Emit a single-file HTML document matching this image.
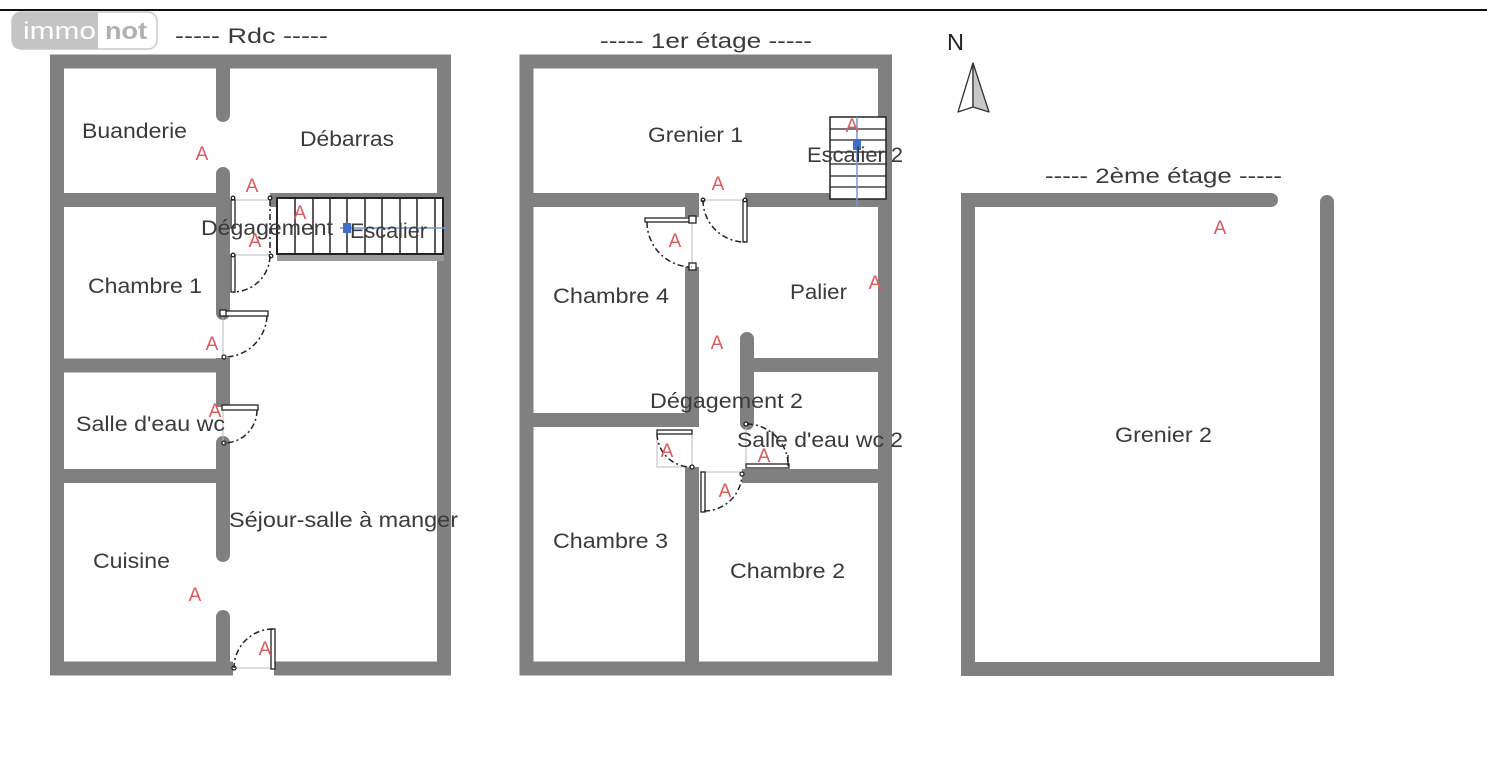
<!DOCTYPE html>
<html><head><meta charset="utf-8"><style>
html,body{margin:0;padding:0;background:#fff;}
svg{display:block;}
text{font-family:"Liberation Sans",sans-serif;}
</style></head><body>
<svg width="1487" height="767" viewBox="0 0 1487 767" xmlns="http://www.w3.org/2000/svg">
<rect width="1487" height="767" fill="#fff"/>
<line x1="0" y1="10" x2="1487" y2="10" stroke="#111" stroke-width="2"/>

<!-- logo -->
<rect x="12" y="12" width="145" height="37" rx="9" fill="#fff" stroke="#c8c8c8" stroke-width="1.5"/>
<path d="M21 12 H98 V49 H21 A9 9 0 0 1 12 40 V21 A9 9 0 0 1 21 12 Z" fill="#c4c4c4"/>
<text x="23" y="39" font-size="24" fill="#fff" textLength="73" lengthAdjust="spacingAndGlyphs">immo</text>
<text x="105" y="39" font-size="24" font-weight="bold" fill="#b0b0b0" textLength="42" lengthAdjust="spacingAndGlyphs">not</text>

<g fill="none" stroke="#808080" stroke-width="14">
<!-- Rdc -->
<path d="M233 668.5 H57 V61.5 H444 V668.5 H274" stroke-linejoin="miter"/>
<path d="M223 68 V115" stroke-linecap="round"/>
<path d="M223 174 V313" stroke-linecap="round"/>
<path d="M57 200 H229"/>
<path d="M270 200 H444"/>
<path d="M223 358 V407"/>
<path d="M57 365.5 H229"/>
<path d="M223 443 V555" stroke-linecap="round"/>
<path d="M57 476 H229"/>
<path d="M223 617 V668" stroke-linecap="round"/>
<!-- 1er -->
<path d="M526.5 61.5 H885 V668.5 H526.5 Z" stroke-linejoin="miter"/>
<path d="M533 200 H692 V217"/>
<path d="M745 200 H878"/>
<path d="M533 420 H692 V267"/>
<path d="M692 467 V668"/>
<path d="M747 339 V423" stroke-linecap="round"/>
<path d="M741 365 H878"/>
<path d="M742 476 H878"/>
<!-- 2e -->
<path d="M1271 200 H968 V669 H1327 V202" stroke-linecap="round" stroke-linejoin="miter"/>
</g>

<!-- Rdc stairs -->
<rect x="277" y="254" width="167" height="7" fill="#9a9a9a"/>
<rect x="277" y="198" width="166" height="56" fill="#fff" stroke="#222" stroke-width="2"/>
<g stroke="#222" stroke-width="1.5">
<line x1="295" y1="198" x2="295" y2="254"/><line x1="313" y1="198" x2="313" y2="254"/>
<line x1="330" y1="198" x2="330" y2="254"/><line x1="347" y1="198" x2="347" y2="254"/>
<line x1="365" y1="198" x2="365" y2="254"/><line x1="382" y1="198" x2="382" y2="254"/>
<line x1="400" y1="198" x2="400" y2="254"/><line x1="417" y1="198" x2="417" y2="254"/>
<line x1="435" y1="198" x2="435" y2="254"/>
</g>
<line x1="340" y1="228" x2="446" y2="228" stroke="#6f9ad8" stroke-width="1.5"/>
<rect x="343" y="223" width="8" height="10" fill="#3f6fc9"/>

<!-- Rdc doors -->
<g fill="none" stroke="#bbb" stroke-width="1">
<line x1="233" y1="200" x2="270" y2="200"/><line x1="233" y1="255" x2="270" y2="255"/>
<line x1="223" y1="316" x2="223" y2="357"/><line x1="223" y1="410" x2="223" y2="443"/>
<line x1="234" y1="668" x2="273" y2="668"/>
</g>
<g fill="#fff" stroke="#222" stroke-width="1.3">
<rect x="231" y="200" width="4" height="28"/>
<rect x="231" y="255" width="4" height="37"/>
<rect x="223" y="311" width="45" height="5"/>
<rect x="220" y="310" width="6" height="6"/>
<rect x="222" y="405" width="36" height="5"/>
<rect x="271" y="629" width="4" height="40"/>
<circle cx="233" cy="198" r="1.8"/><circle cx="270" cy="198" r="1.8"/>
<circle cx="233" cy="255" r="1.8"/><circle cx="271" cy="256" r="1.8"/>
<circle cx="224" cy="357" r="2"/><circle cx="224" cy="443" r="2"/><circle cx="234" cy="668" r="2"/>
</g>
<g fill="none" stroke="#222" stroke-width="1.5" stroke-dasharray="6 3 2 3">
<path d="M270 200 V255 A37 37 0 0 1 233 292"/>
<path d="M267 316 A43 43 0 0 1 225 357"/>
<path d="M257 410 A33 33 0 0 1 224 443"/>
<path d="M273 629 A39 39 0 0 0 234 668"/>
</g>

<!-- 1er stairs -->
<rect x="830" y="117" width="56" height="82" fill="#fff" stroke="#222" stroke-width="1.5"/>
<g stroke="#222" stroke-width="1.3">
<line x1="830" y1="129" x2="886" y2="129"/><line x1="830" y1="140" x2="886" y2="140"/>
<line x1="830" y1="152" x2="886" y2="152"/><line x1="830" y1="164" x2="886" y2="164"/>
<line x1="830" y1="176" x2="886" y2="176"/><line x1="830" y1="187" x2="886" y2="187"/>
</g>
<line x1="857" y1="117" x2="857" y2="207" stroke="#6f9ad8" stroke-width="1.5"/>
<rect x="853" y="139" width="8" height="11" fill="#3f6fc9"/>

<!-- 1er doors -->
<g fill="none" stroke="#bbb" stroke-width="1">
<line x1="703" y1="200" x2="745" y2="200"/><line x1="692" y1="222" x2="692" y2="266"/>
<line x1="692" y1="433" x2="692" y2="467"/><line x1="746" y1="424" x2="746" y2="466"/>
<line x1="698" y1="472" x2="742" y2="472"/><rect x="657" y="433" width="35" height="34"/>
</g>
<g fill="#fff" stroke="#222" stroke-width="1.3">
<rect x="743" y="200" width="4" height="42"/>
<rect x="645" y="218" width="47" height="4"/>
<rect x="689" y="216" width="7" height="7"/>
<rect x="689" y="263" width="7" height="7"/>
<rect x="657" y="430" width="35" height="4"/>
<rect x="746" y="464" width="43" height="4"/>
<line x1="788" y1="455" x2="788" y2="466"/>
<rect x="701" y="472" width="4" height="40"/>
<circle cx="703" cy="200" r="1.8"/><circle cx="745" cy="200" r="1.8"/>
<circle cx="692" cy="467" r="2"/><circle cx="746" cy="424" r="2"/><circle cx="742" cy="474" r="2"/>
</g>
<g fill="none" stroke="#222" stroke-width="1.5" stroke-dasharray="6 3 2 3">
<path d="M703 200 A42 42 0 0 0 745 242"/>
<path d="M647 222 A45 45 0 0 0 692 267"/>
<path d="M657 434 A34 34 0 0 0 691 467"/>
<path d="M747 424 A42 42 0 0 1 788 462"/>
<path d="M704 511 A38 38 0 0 0 742 476"/>
</g>

<!-- north arrow -->
<path d="M973 63 L958 112 L973 107 Z" fill="#fff" stroke="#333" stroke-width="1.3" stroke-linejoin="round"/>
<path d="M973 63 L989 112 L973 107 Z" fill="#c8c8c8" stroke="#333" stroke-width="1.3" stroke-linejoin="round"/>
<text x="947" y="50" font-size="23" fill="#222" textLength="17" lengthAdjust="spacingAndGlyphs">N</text>

<!-- labels -->
<g font-size="21" fill="#3a3a3a">
<text x="175" y="43" textLength="153" lengthAdjust="spacingAndGlyphs">----- Rdc -----</text>
<text x="82" y="138" textLength="105" lengthAdjust="spacingAndGlyphs">Buanderie</text>
<text x="300" y="146" textLength="94" lengthAdjust="spacingAndGlyphs">Débarras</text>
<text x="201" y="235" textLength="132" lengthAdjust="spacingAndGlyphs">Dégagement</text>
<text x="350" y="238" textLength="77" lengthAdjust="spacingAndGlyphs">Escalier</text>
<text x="88" y="293" textLength="114" lengthAdjust="spacingAndGlyphs">Chambre 1</text>
<text x="76" y="431" textLength="149" lengthAdjust="spacingAndGlyphs">Salle d'eau wc</text>
<text x="229" y="527" textLength="229" lengthAdjust="spacingAndGlyphs">Séjour-salle à manger</text>
<text x="93" y="568" textLength="77" lengthAdjust="spacingAndGlyphs">Cuisine</text>

<text x="600" y="48" textLength="212" lengthAdjust="spacingAndGlyphs">----- 1er étage -----</text>
<text x="648" y="142" textLength="95" lengthAdjust="spacingAndGlyphs">Grenier 1</text>
<text x="807" y="162" textLength="96" lengthAdjust="spacingAndGlyphs">Escalier 2</text>
<text x="553" y="303" textLength="116" lengthAdjust="spacingAndGlyphs">Chambre 4</text>
<text x="790" y="299" textLength="57" lengthAdjust="spacingAndGlyphs">Palier</text>
<text x="650" y="408" textLength="153" lengthAdjust="spacingAndGlyphs">Dégagement 2</text>
<text x="737" y="447" textLength="166" lengthAdjust="spacingAndGlyphs">Salle d'eau wc 2</text>
<text x="553" y="548" textLength="115" lengthAdjust="spacingAndGlyphs">Chambre 3</text>
<text x="730" y="578" textLength="115" lengthAdjust="spacingAndGlyphs">Chambre 2</text>

<text x="1045" y="183" textLength="237" lengthAdjust="spacingAndGlyphs">----- 2ème étage -----</text>
<text x="1115" y="442" textLength="97" lengthAdjust="spacingAndGlyphs">Grenier 2</text>
</g>

<g font-size="19" fill="#e0585c" text-anchor="middle">
<text x="202" y="160">A</text><text x="252" y="192">A</text><text x="300" y="219">A</text>
<text x="255" y="247">A</text><text x="212" y="350">A</text><text x="215" y="417">A</text>
<text x="195" y="601">A</text><text x="265" y="655">A</text>
<text x="718" y="190">A</text><text x="675" y="247">A</text><text x="852" y="132">A</text>
<text x="875" y="289">A</text><text x="717" y="349">A</text><text x="667" y="457">A</text>
<text x="764" y="462">A</text><text x="725" y="497">A</text>
<text x="1220" y="234">A</text>
</g>
</svg>
</body></html>
